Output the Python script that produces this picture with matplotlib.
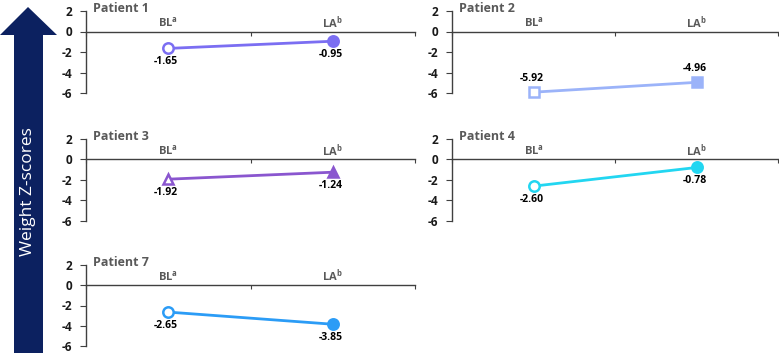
import matplotlib
matplotlib.use("Agg")
import matplotlib.pyplot as plt
from matplotlib.patches import Polygon

plt.rcParams['font.family'] = ['Open Sans', 'DejaVu Sans']

patients = ["Patient 1", "Patient 2", "Patient 3", "Patient 4", "Patient 7"]
timepoints = ["BL$^{\\mathregular{a}}$", "LA$^{\\mathregular{b}}$"]
bl_values = [-1.65, -5.92, -1.92, -2.60, -2.65]
la_values = [-0.95, -4.96, -1.24, -0.78, -3.85]
colors = ["#7B6EF2", "#9BB3F9", "#8A56CF", "#22D6F1", "#2B9CF6"]
markers = ["o", "s", "^", "o", "o"]
label_above = [False, True, False, False, False]
yticks = [2, 0, -2, -4, -6]

W, H = 779, 353
fig = plt.figure(figsize=(W / 100, H / 100), dpi=100)

# axes rectangles in pixels: (left, top, right, bottom)
rects = [
    (86, 11, 415, 93),
    (452, 11, 778, 93),
    (86, 139, 415, 221),
    (452, 139, 778, 221),
    (86, 265, 415, 346),
]

spine_col = "#404040"
for i, (l, t, r, b) in enumerate(rects):
    ax = fig.add_axes([l / W, 1 - b / H, (r - l) / W, (b - t) / H])
    ax.set_xlim(0, 2)
    ax.set_ylim(-6, 2)
    ax.patch.set_alpha(0)
    for s in ["top", "right"]:
        ax.spines[s].set_visible(False)
    ax.spines["bottom"].set_position(("data", 0))
    ax.spines["left"].set_color(spine_col)
    ax.spines["bottom"].set_color(spine_col)
    ax.spines["left"].set_linewidth(1.0)
    ax.spines["bottom"].set_linewidth(1.0)
    ax.set_yticks(yticks)
    ax.set_yticklabels([str(v) for v in yticks], fontsize=8.5, fontweight="bold", color="#1a1a1a")
    ax.tick_params(axis="y", direction="out", length=4, color=spine_col, pad=6)
    ax.set_xticks([0, 1, 2])
    ax.set_xticklabels([])
    ax.tick_params(axis="x", direction="out", length=3, color=spine_col)

    xs = [0.5, 1.5]
    ys = [bl_values[i], la_values[i]]
    c = colors[i]
    ax.plot(xs, ys, color=c, lw=2, zorder=2, clip_on=False)
    ax.plot(xs[0], ys[0], marker=markers[i], ms=7.5, mfc="white", mec=c, mew=1.8,
            zorder=3, clip_on=False)
    ax.plot(xs[1], ys[1], marker=markers[i], ms=7.5, mfc=c, mec=c, mew=1.8,
            zorder=3, clip_on=False)

    off = 14 if label_above[i] else -13
    for x, y in zip(xs, ys):
        ax.annotate(f"{y:.2f}", (x, y), xytext=(-2, off), textcoords="offset pixels",
                    ha="center", va="center", fontsize=7.5, fontweight="bold", color="black")

    for x, lab in zip(xs, timepoints):
        ax.text(x, 0.9, lab, ha="center", va="center", fontsize=8,
                fontweight="bold", color="#595959")

    ax.text(0.02, 1.03, patients[i], transform=ax.transAxes, ha="left", va="center",
            fontsize=9, fontweight="bold", color="#595959")

# big arrow on the left
pts_px = [(28, 7), (57, 35), (43, 35), (43, 353), (14, 353), (14, 35), (0, 35)]
pts = [(x / W, 1 - y / H) for x, y in pts_px]
fig.add_artist(Polygon(pts, closed=True, transform=fig.transFigure,
                       facecolor="#0C2160", edgecolor="none"))
fig.text(28.5 / W, 1 - 192 / H, "Weight Z-scores", rotation=90, ha="center", va="center",
         color="white", fontsize=12.5)

fig.savefig("out.png", dpi=100)
